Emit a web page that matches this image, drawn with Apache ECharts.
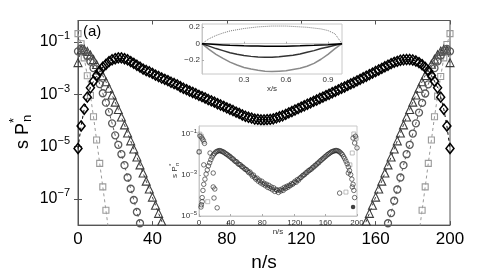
<!DOCTYPE html>
<html><head><meta charset="utf-8">
<script src="https://cdn.jsdelivr.net/npm/echarts@6/dist/echarts.min.js"></script>
<style>html,body{margin:0;padding:0;background:#fff}#c{width:498px;height:277px}</style>
</head><body><div id="c"></div>
<script>
const FONT = '"Liberation Sans", Arial, Helvetica, sans-serif';
// sampling step of n/s for the main-panel series
const nStep = 5 / 3;
const xTicks = [0, 40, 80, 120, 160, 200];
const yTickExp = [-7, -5, -3, -1];            // main panel: labelled decades (log10)
const insetXTicks = [0.3, 0.6, 0.9];
const insetYTicks = [-0.2, 0, 0.2];
const inset2YTickExp = [-5, -3, -1];

// main panel, log10(s P*_n), index k -> n/s = k*nStep
const diamondsExp = [-5.07,-4.21,-3.57,-3.11,-2.75,-2.50,-2.29,-2.11,-1.96,-1.86,-1.75,
 -1.68,-1.64,-1.61,-1.61,-1.64,-1.68,-1.75,-1.82,-1.89,-1.96,
 -2.04,-2.09,-2.14,-2.20,-2.27,-2.32,-2.38,-2.43,-2.48,-2.54,
 -2.59,-2.64,-2.71,-2.77,-2.82,-2.88,-2.93,-2.98,-3.04,-3.09,
 -3.14,-3.20,-3.25,-3.30,-3.36,-3.41,-3.46,-3.52,-3.57,-3.62,
 -3.68,-3.73,-3.79,-3.84,-3.88,-3.91,-3.95,-3.96,-3.98,-3.98,
 -3.97,-3.96,-3.94,-3.90,-3.86,-3.82,-3.77,-3.71,-3.66,-3.60,
 -3.55,-3.49,-3.44,-3.38,-3.33,-3.27,-3.22,-3.16,-3.11,-3.05,
 -3.00,-2.94,-2.89,-2.83,-2.77,-2.72,-2.66,-2.60,-2.55,-2.49,
 -2.43,-2.37,-2.31,-2.25,-2.19,-2.13,-2.07,-2.01,-1.95,-1.89,
 -1.83,-1.78,-1.74,-1.70,-1.68,-1.67,-1.67,-1.69,-1.73,-1.79,
 -1.87,-1.97,-2.10,-2.28,-2.50,-2.75,-3.11,-3.57,-4.21,-5.07];
// left branches: index k from n/s=0 ; right branches: index j from n/s=200
const circlesLeftExp  = [-1.36,-1.25,-1.36,-1.54,-1.75,-2.00,-2.29,-2.61,-2.96,-3.32,-3.68,-4.11,-4.57,-4.93,-5.29,-5.71,-6.18,-6.61,-7.04,-7.50,-7.93,-8.36];
const circlesRightExp = [-1.36,-1.27,-1.34,-1.52,-1.74,-2.00,-2.30,-2.62,-2.97,-3.33,-3.70,-4.11,-4.50,-4.93,-5.29,-5.71,-6.18,-6.64,-7.07,-7.54,-7.93,-8.36];
const trianglesLeftExp  = [-1.79,-1.30,-1.28,-1.36,-1.50,-1.67,-1.86,-2.07,-2.29,-2.52,-2.77,-3.03,-3.30,-3.58,-3.87,-4.17,-4.48,-4.78,-5.09,-5.40,-5.70,-6.01,-6.32,-6.62,-6.93,-7.24,-7.55,-7.85,-8.16];
const trianglesRightExp = [-1.79,-1.31,-1.28,-1.35,-1.49,-1.66,-1.85,-2.06,-2.28,-2.52,-2.77,-3.03,-3.30,-3.58,-3.87,-4.17,-4.48,-4.78,-5.09,-5.40,-5.70,-6.01,-6.32,-6.62,-6.93,-7.24,-7.55,-7.85,-8.16];
const squaresLeftExp  = [-0.68,-1.07,-1.61,-2.29,-3.04,-3.86,-4.75,-5.64,-6.54,-7.43,-8.32];
const squaresRightExp = [-0.68,-1.10,-1.61,-2.32,-3.07,-3.86,-4.75,-5.64,-6.54,-7.43,-8.32];

// upper inset: profiles vs x/s
const insetX = [0,0.05,0.1,0.15,0.2,0.25,0.3,0.35,0.4,0.45,0.5,0.55,0.6,0.65,0.7,0.75,0.8,0.85,0.9,0.95,1];
const profDotted = [0,0.06,0.10,0.13,0.155,0.17,0.185,0.195,0.205,0.21,0.215,0.215,0.215,0.21,0.205,0.2,0.19,0.18,0.16,0.12,0];
const profBlack  = [0,-0.005,-0.01,-0.015,-0.02,-0.022,-0.025,-0.027,-0.028,-0.03,-0.03,-0.03,-0.03,-0.028,-0.026,-0.023,-0.02,-0.016,-0.012,-0.006,0];
const profDark   = [0,-0.03,-0.06,-0.085,-0.11,-0.13,-0.145,-0.155,-0.162,-0.165,-0.165,-0.16,-0.15,-0.14,-0.125,-0.105,-0.085,-0.06,-0.04,-0.02,0];
const profGray   = [0,-0.07,-0.13,-0.18,-0.225,-0.26,-0.29,-0.31,-0.325,-0.335,-0.34,-0.335,-0.33,-0.315,-0.3,-0.275,-0.24,-0.19,-0.13,-0.06,0];

// lower inset: [n/s, log10(s P*_n)]
const insetCircles = [[3,-4.45],[4,-4.1],[5,-3.75],[6,-3.45],[7.5,-3.2],[9,-2.95],[10.5,-2.75],[12,-2.55],[13.5,-2.4],[15,-2.25],[16.5,-2.12],[18,-2.02],[19.5,-1.95],[21,-1.88],[22.5,-1.85],[24,-1.82],[25.5,-1.8],[27,-1.81],[28.5,-1.83],[30,-1.86],[31.5,-1.88],[33,-1.93],[34.5,-1.97],[36,-2.0],[37.5,-2.06],[39,-2.08],[40.5,-2.14],[42,-2.2],[43.5,-2.22],[45,-2.3],[46.5,-2.34],[48,-2.36],[49.5,-2.45],[51,-2.48],[52.5,-2.5],[54,-2.58],[55.5,-2.6],[57,-2.66],[58.5,-2.72],[60,-2.73],[61.5,-2.8],[63,-2.88],[64.5,-2.85],[66,-2.95],[67.5,-3.05],[69,-3.0],[70.5,-3.12],[72,-3.2],[73.5,-3.15],[75,-3.3],[76.5,-3.25],[78,-3.38],[79.5,-3.3],[81,-3.45],[82.5,-3.4],[84,-3.52],[85.5,-3.45],[87,-3.6],[88.5,-3.5],[90,-3.65],[91.5,-3.58],[93,-3.72],[94.5,-3.62],[96,-3.8],[97.5,-3.7],[99,-3.75],[100.5,-3.85],[102,-3.72],[103.5,-3.78],[105,-3.68],[106.5,-3.75],[108,-3.6],[109.5,-3.66],[111,-3.55],[112.5,-3.6],[114,-3.5],[115.5,-3.52],[117,-3.42],[118.5,-3.45],[120,-3.38],[121.5,-3.3],[123,-3.35],[124.5,-3.22],[126,-3.25],[127.5,-3.15],[129,-3.12],[130.5,-3.05],[132,-3.0],[133.5,-2.98],[135,-2.9],[136.5,-2.88],[138,-2.8],[139.5,-2.78],[141,-2.72],[142.5,-2.7],[144,-2.62],[145.5,-2.6],[147,-2.52],[148.5,-2.5],[150,-2.42],[151.5,-2.4],[153,-2.32],[154.5,-2.28],[156,-2.22],[157.5,-2.18],[159,-2.12],[160.5,-2.08],[162,-2.02],[163.5,-1.98],[165,-1.94],[166.5,-1.9],[168,-1.86],[169.5,-1.84],[171,-1.82],[172.5,-1.8],[174,-1.8],[175.5,-1.81],[177,-1.84],[178.5,-1.88],[180,-1.94],[181.5,-2.0],[183,-2.1],[184.5,-2.2],[186,-2.32],[187.5,-2.45],[189,-2.6],[190.5,-2.78],[192,-2.98],[193.5,-3.2],[195,-3.45],[196,-3.75],[197,-4.1],
 [1.3,-1.09],[3.8,-1.19],[5,-1.28],[7,-1.45],[0,-1.87],[6,-2.5],[14,-1.92],[18,-2.9],[20,-3.68],[18,-3.58],[19,-4.12],[23,-4.6],[4,-4.3],[2.5,-4.56],
 [198,-1.1],[195,-1.19],[197,-1.43],[200,-1.67],[189,-2.9],[178,-3.88],[194,-3.58]];
const insetSquares = [[1,-1.0],[3,-1.1],[6,-1.35],[0.5,-1.85],[11,-4.3],[196,-0.99],[199,-1.2],[194,-1.92],[191,-2.5],[186,-3.83]];
const insetFilled = [[195,-4.56]];

const pairsLeft = arr => arr.map((v, k) => [k * nStep, v]);
const pairsRight = arr => arr.map((v, j) => [200 - j * nStep, v]);
const minus = v => String(v).replace('-', '\u2212');

const chart = echarts.init(document.getElementById('c'), null, {renderer: 'canvas'});

function mainLine(name, data, symbol, size, color, z, bw) {
  return {
    name, type: 'line', xAxisIndex: 0, yAxisIndex: 0, data, symbol, symbolSize: size,
    showAllSymbol: true, z,
    itemStyle: {color: 'rgba(255,255,255,0)', borderColor: color, borderWidth: bw || 1.1},
    lineStyle: {color, width: 1, type: [3, 3]},
    emphasis: {disabled: true}
  };
}

const option = {
  animation: false,
  backgroundColor: '#fff',
  textStyle: {fontFamily: FONT},
  grid: [
    {left: 78, top: 20.5, width: 372, height: 218.8, show: true, borderColor: '#555', borderWidth: 1, backgroundColor: 'transparent'},
    {left: 202, top: 24, width: 140, height: 50, show: true, borderColor: '#c8c8c8', borderWidth: 1, backgroundColor: '#fff', z: 10},
    {left: 199, top: 126, width: 158, height: 90, show: true, borderColor: '#c8c8c8', borderWidth: 1, backgroundColor: '#fff', z: 10}
  ],
  xAxis: [
    {type: 'value', gridIndex: 0, min: 0, max: 200, interval: 40, position: 'bottom',
     axisLine: {lineStyle: {color: '#555'}}, splitLine: {show: false},
     axisTick: {inside: true, length: 4, lineStyle: {color: '#555'}},
     axisLabel: {color: '#000', fontSize: 17, margin: 6, fontFamily: FONT},
     name: 'n/s', nameLocation: 'middle', nameGap: 17,
     nameTextStyle: {color: '#000', fontSize: 19, fontFamily: FONT}},
    {type: 'value', gridIndex: 0, min: 0, max: 200, interval: 40, position: 'top',
     axisLine: {lineStyle: {color: '#555'}}, splitLine: {show: false},
     axisTick: {inside: true, length: 4, lineStyle: {color: '#555'}}, axisLabel: {show: false}},
    {type: 'value', gridIndex: 1, min: 0, max: 1, z: 11,
     axisLine: {lineStyle: {color: '#c8c8c8'}}, splitLine: {show: false},
     axisTick: {inside: true, length: 2, customValues: insetXTicks, lineStyle: {color: '#aaa'}},
     axisLabel: {customValues: insetXTicks, color: '#333', fontSize: 8, margin: 2, fontFamily: FONT},
     name: 'x/s', nameLocation: 'middle', nameGap: 8, nameTextStyle: {color: '#333', fontSize: 8, fontFamily: FONT}},
    {type: 'value', gridIndex: 2, min: 0, max: 200, interval: 40, z: 11,
     axisLine: {lineStyle: {color: '#c8c8c8'}}, splitLine: {show: false},
     axisTick: {inside: true, length: 2, lineStyle: {color: '#aaa'}},
     axisLabel: {color: '#333', fontSize: 8, margin: 3, fontFamily: FONT},
     name: 'n/s', nameLocation: 'middle', nameGap: 11, nameTextStyle: {color: '#333', fontSize: 8, fontFamily: FONT}}
  ],
  yAxis: [
    {type: 'value', gridIndex: 0, min: -8, max: -0.18, position: 'left',
     axisLine: {lineStyle: {color: '#555'}}, splitLine: {show: false},
     axisTick: {inside: true, length: 4, customValues: yTickExp, lineStyle: {color: '#555'}},
     axisLabel: {customValues: yTickExp, margin: 8,
       formatter: v => '{b|10}{s|' + minus(v) + '}',
       rich: {b: {fontSize: 16, lineHeight: 22, color: '#000', fontFamily: FONT},
              s: {fontSize: 11, lineHeight: 12, verticalAlign: 'top', color: '#000', fontFamily: FONT}}}},
    {type: 'value', gridIndex: 0, min: -8, max: -0.18, position: 'right',
     axisLine: {lineStyle: {color: '#555'}}, splitLine: {show: false},
     axisTick: {inside: true, length: 4, customValues: yTickExp, lineStyle: {color: '#555'}},
     axisLabel: {show: false}},
    {type: 'value', gridIndex: 1, min: -0.37, max: 0.24, z: 11,
     axisLine: {lineStyle: {color: '#c8c8c8'}}, splitLine: {show: false},
     axisTick: {inside: true, length: 2, customValues: insetYTicks, lineStyle: {color: '#aaa'}},
     axisLabel: {customValues: insetYTicks, color: '#333', fontSize: 8, margin: 2, fontFamily: FONT,
       formatter: v => minus(v)}},
    {type: 'value', gridIndex: 2, min: -5, max: -0.6, z: 11,
     axisLine: {lineStyle: {color: '#c8c8c8'}}, splitLine: {show: false},
     axisTick: {inside: true, length: 2, customValues: inset2YTickExp, lineStyle: {color: '#aaa'}},
     axisLabel: {customValues: inset2YTickExp, margin: 2,
       formatter: v => '{b|10}{s|' + minus(v) + '}',
       rich: {b: {fontSize: 8, lineHeight: 11, color: '#333', fontFamily: FONT},
              s: {fontSize: 6, lineHeight: 6, verticalAlign: 'top', color: '#333', fontFamily: FONT}}}}
  ],
  series: [
    mainLine('squaresL', pairsLeft(squaresLeftExp), 'rect', 6, '#9a9a9a', 2),
    mainLine('squaresR', pairsRight(squaresRightExp), 'rect', 6, '#9a9a9a', 2),
    mainLine('trianglesL', pairsLeft(trianglesLeftExp), 'triangle', 8, '#3c3c3c', 3),
    mainLine('trianglesR', pairsRight(trianglesRightExp), 'triangle', 8, '#3c3c3c', 3),
    mainLine('circlesL', pairsLeft(circlesLeftExp), 'circle', 7, '#5a5a5a', 4, 1.3),
    mainLine('circlesR', pairsRight(circlesRightExp), 'circle', 7, '#5a5a5a', 4, 1.3),
    mainLine('diamonds', pairsLeft(diamondsExp), 'diamond', [8, 10], '#000', 5, 1.5),
    // upper inset
    {type: 'line', xAxisIndex: 2, yAxisIndex: 2, z: 12, symbol: 'none', data: insetX.map((x, i) => [x, profDotted[i]]),
     lineStyle: {color: '#777', width: 1, type: 'dotted'}},
    {type: 'line', xAxisIndex: 2, yAxisIndex: 2, z: 12, symbol: 'none', data: insetX.map((x, i) => [x, profGray[i]]),
     lineStyle: {color: '#8a8a8a', width: 1.5}},
    {type: 'line', xAxisIndex: 2, yAxisIndex: 2, z: 12, symbol: 'none', data: insetX.map((x, i) => [x, profDark[i]]),
     lineStyle: {color: '#333', width: 1.5}},
    {type: 'line', xAxisIndex: 2, yAxisIndex: 2, z: 12, symbol: 'none', data: insetX.map((x, i) => [x, profBlack[i]]),
     lineStyle: {color: '#000', width: 1.5}},
    // lower inset
    {type: 'scatter', xAxisIndex: 3, yAxisIndex: 3, z: 12, data: insetSquares, symbol: 'rect', symbolSize: 4,
     itemStyle: {color: 'rgba(255,255,255,0)', borderColor: '#999', borderWidth: 0.8}},
    {type: 'scatter', xAxisIndex: 3, yAxisIndex: 3, z: 12, data: insetCircles, symbol: 'circle', symbolSize: 4.5,
     itemStyle: {color: 'rgba(255,255,255,0)', borderColor: '#222', borderWidth: 0.8}},
    {type: 'scatter', xAxisIndex: 3, yAxisIndex: 3, z: 12, data: insetFilled, symbol: 'circle', symbolSize: 4.5,
     itemStyle: {color: '#111'}}
  ],
  graphic: [
    {type: 'text', left: 83, top: 24, z: 20, style: {text: '(a)', font: '15px ' + FONT, fill: '#000'}},
    {type: 'group', x: 23, y: 149, rotation: Math.PI / 2, z: 20, children: [
      {type: 'text', x: 0, y: 0, style: {text: 's P', font: '18px ' + FONT, fill: '#000', verticalAlign: 'middle', textVerticalAlign: 'middle'}},
      {type: 'text', x: 26, y: -9, style: {text: '*', font: '13px ' + FONT, fill: '#000', verticalAlign: 'middle', textVerticalAlign: 'middle'}},
      {type: 'text', x: 27, y: 4, style: {text: 'n', font: '13px ' + FONT, fill: '#000', verticalAlign: 'middle', textVerticalAlign: 'middle'}}
    ]},
    {type: 'group', x: 175, y: 178, rotation: Math.PI / 2, z: 20, children: [
      {type: 'text', x: 0, y: 0, style: {text: 's P', font: '8px ' + FONT, fill: '#333', verticalAlign: 'middle', textVerticalAlign: 'middle'}},
      {type: 'text', x: 12, y: -4, style: {text: '*', font: '6px ' + FONT, fill: '#333', verticalAlign: 'middle', textVerticalAlign: 'middle'}},
      {type: 'text', x: 12, y: 2, style: {text: 'n', font: '6px ' + FONT, fill: '#333', verticalAlign: 'middle', textVerticalAlign: 'middle'}}
    ]}
  ]
};
chart.setOption(option);
</script></body></html>
